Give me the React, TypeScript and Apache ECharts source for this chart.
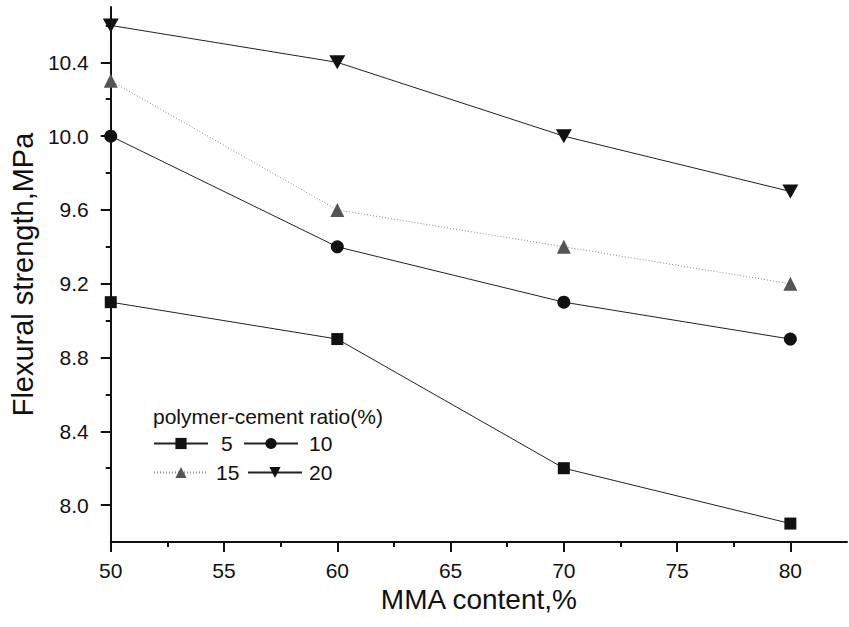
import React, { useEffect, useRef } from "react";
import * as echarts from "echarts";

const xValues = [50, 60, 70, 80];
const ratio5 = [9.1, 8.9, 8.2, 7.9];
const ratio10 = [10.0, 9.4, 9.1, 8.9];
const ratio15 = [10.3, 9.6, 9.4, 9.2];
const ratio20 = [10.6, 10.4, 10.0, 9.7];

const xMajorTicks = [50, 55, 60, 65, 70, 75, 80];
const xMinorTicks = [52.5, 57.5, 62.5, 67.5, 72.5, 77.5];
const yMajorTicks = [8.0, 8.4, 8.8, 9.2, 9.6, 10.0, 10.4];
const yMinorTicks = [8.2, 8.6, 9.0, 9.4, 9.8, 10.2, 10.6];

const FONT = "'Liberation Sans', Arial, Helvetica, sans-serif";
const INK = "#111";

const pairs = (ys: number[]) => xValues.map((x, i) => [x, ys[i]]);

export default function App() {
  const ref = useRef<HTMLDivElement>(null);
  useEffect(() => {
    if (!ref.current) return;
    const chart = echarts.init(ref.current, undefined, { renderer: "svg" });
    const X_MIN = 50, X_MAX = 82.5, Y_MIN = 7.8, Y_MAX = 10.7;
    const legendItem = (name: string, left: number, top: number, padLeft: number) => ({
      left,
      top,
      itemWidth: 54,
      itemHeight: 14,
      itemGap: 4,
      data: [name],
      textStyle: { fontSize: 21, color: INK, fontFamily: FONT, padding: [0, 0, 0, padLeft] },
    });
    chart.setOption({
      animation: false,
      backgroundColor: "#fff",
      textStyle: { fontFamily: FONT },
      title: {
        text: "polymer-cement ratio(%)",
        left: 148,
        top: 401,
        textStyle: { fontSize: 21, fontWeight: "normal", color: INK, fontFamily: FONT },
      },
      legend: [
        legendItem("5", 148, 428, 8),
        legendItem("10", 238, 428, 6),
        legendItem("15", 148, 457, 3),
        legendItem("20", 242, 457, 2),
      ],
      grid: { left: 110, right: 2, top: 7, bottom: 85, containLabel: false },
      xAxis: [
        {
          type: "value",
          min: X_MIN,
          max: X_MAX,
          interval: 5,
          name: "MMA content,%",
          nameLocation: "middle",
          nameGap: 42,
          nameTextStyle: { fontSize: 28, color: INK, fontFamily: FONT },
          axisLine: { show: true, lineStyle: { color: INK, width: 2 } },
          axisTick: { show: true, inside: false, length: 10, customValues: xMajorTicks, lineStyle: { color: INK, width: 2 } },
          axisLabel: { show: true, customValues: xMajorTicks, margin: 18, fontSize: 21, color: INK, fontFamily: FONT },
          splitLine: { show: false },
        },
        {
          type: "value",
          min: X_MIN,
          max: X_MAX,
          position: "bottom",
          axisLine: { show: false },
          axisTick: { show: true, length: 5, customValues: xMinorTicks, lineStyle: { color: INK, width: 2 } },
          axisLabel: { show: false },
          splitLine: { show: false },
        },
      ],
      yAxis: [
        {
          type: "value",
          min: Y_MIN,
          max: Y_MAX,
          interval: 0.2,
          name: "Flexural strength,MPa",
          nameLocation: "middle",
          nameGap: 72,
          nameTextStyle: { fontSize: 29, color: INK, fontFamily: FONT },
          axisLine: { show: true, lineStyle: { color: INK, width: 2 } },
          axisTick: { show: true, inside: false, length: 10, customValues: yMajorTicks, lineStyle: { color: INK, width: 2 } },
          axisLabel: {
            show: true,
            customValues: yMajorTicks,
            margin: 22,
            fontSize: 21,
            color: INK,
            fontFamily: FONT,
            formatter: (v: number) => v.toFixed(1),
          },
          splitLine: { show: false },
        },
        {
          type: "value",
          min: Y_MIN,
          max: Y_MAX,
          position: "left",
          axisLine: { show: false },
          axisTick: { show: true, length: 5, customValues: yMinorTicks, lineStyle: { color: INK, width: 2 } },
          axisLabel: { show: false },
          splitLine: { show: false },
        },
      ],
      series: [
        {
          name: "5",
          type: "line",
          data: pairs(ratio5),
          symbol: "rect",
          symbolSize: 12,
          lineStyle: { color: "#222", width: 1 },
          itemStyle: { color: "#111" },
        },
        {
          name: "10",
          type: "line",
          data: pairs(ratio10),
          symbol: "circle",
          symbolSize: 13,
          lineStyle: { color: "#222", width: 1 },
          itemStyle: { color: "#111" },
        },
        {
          name: "15",
          type: "line",
          data: pairs(ratio15),
          symbol: "triangle",
          symbolSize: 14,
          lineStyle: { color: "#888", width: 1, type: [1, 2] },
          itemStyle: { color: "#555" },
        },
        {
          name: "20",
          type: "line",
          data: pairs(ratio20),
          symbol: "triangle",
          symbolSize: [16, 14],
          symbolRotate: 180,
          lineStyle: { color: "#222", width: 1 },
          itemStyle: { color: "#111" },
        },
      ],
    });
    return () => chart.dispose();
  }, []);
  return (
    <div
      ref={ref}
      style={{ position: "fixed", left: 0, top: 0, width: 849, height: 627, background: "#fff" }}
    />
  );
}
